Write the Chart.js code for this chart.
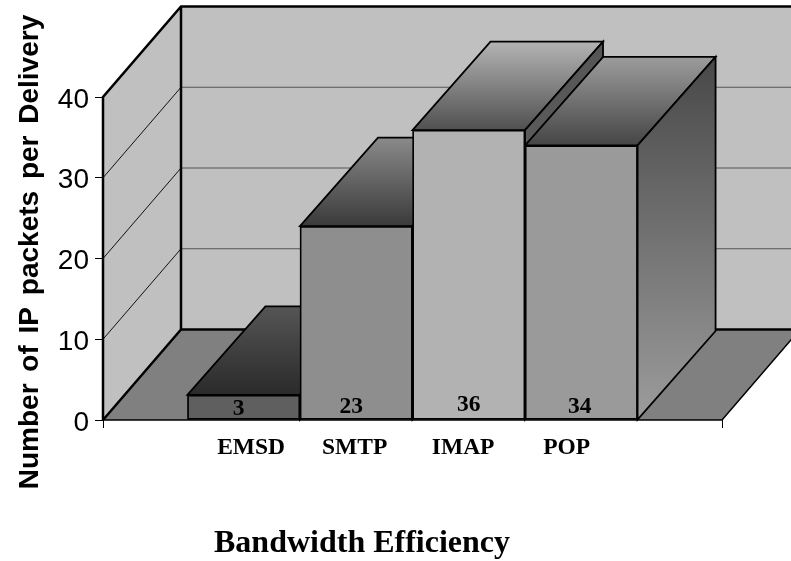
<!DOCTYPE html>
<html>
<head>
<meta charset="utf-8">
<title>Bandwidth Efficiency</title>
<script src="https://cdn.jsdelivr.net/npm/chart.js@4"></script>
<style>
  body { margin: 0; background: #fff; }
  canvas { display: block; }
</style>
</head>
<body>
<canvas id="myChart" width="791" height="561"></canvas>
<script>
"use strict";

/* Data */
const categories = ["EMSD", "SMTP", "IMAP", "POP"];
const barPositions = [1, 2, 3, 4];
const barHeights = [3.1, 24, 35.9, 34];
const valueLabels = ["3", "23", "36", "34"];
const labelPositions = [1.066, 1.986, 2.95, 3.87];
const yTicks = [0, 10, 20, 30, 40];
const xTitle = "Bandwidth Efficiency";
const yTitle = "Number of IP packets per Delivery";

/* Colours per bar */
const frontColors = ["#5f5f5f", "#8e8e8e", "#b2b2b2", "#9a9a9a"];
const topFrontColors = ["#2a2a2a", "#3a3a3a", "#505050", "#454545"];
const topBackColors = ["#555555", "#8a8a8a", "#b4b4b4", "#9c9c9c"];
const sideTopColors = ["#555555", "#555555", "#555555", "#484848"];
const sideBottomColors = ["#2a2a2a", "#8a8a8a", "#6a6a6a", "#9c9c9c"];

/* Nudges of the value labels, they do not sit centred in the original */
const labelNudgeX = [-5, -5, 0, -1.5];
const labelNudgeY = [11, 13, 15, 13];

/* Depth of the fake 3D box */
const depthX = 78;
const depthY = 90.5;
const barDepthY = 88.5;

function poly(ctx, points, fill, stroke, lineWidth) {
  ctx.beginPath();
  points.forEach((p, i) => (i ? ctx.lineTo(p[0], p[1]) : ctx.moveTo(p[0], p[1])));
  ctx.closePath();
  if (fill) {
    ctx.fillStyle = fill;
    ctx.fill();
  }
  if (stroke) {
    ctx.strokeStyle = stroke;
    ctx.lineWidth = lineWidth;
    ctx.stroke();
  }
}

function vGradient(ctx, y1, y2, c1, c2) {
  const g = ctx.createLinearGradient(0, y1, 0, y2);
  g.addColorStop(0, c1);
  g.addColorStop(1, c2);
  return g;
}

/* Walls, floor and the depth faces of the bars */
const box3d = {
  id: "box3d",
  beforeDatasetsDraw(chart) {
    const ctx = chart.ctx;
    const { left, right, top, bottom } = chart.chartArea;
    const y = chart.scales.y;
    ctx.save();

    // side wall, back wall, floor
    poly(ctx, [[left, bottom], [left + depthX, bottom - depthY], [left + depthX, top - depthY], [left, top]], "#c0c0c0");
    poly(ctx, [[left + depthX, bottom - depthY], [right + depthX, bottom - depthY], [right + depthX, top - depthY], [left + depthX, top - depthY]], "#c0c0c0");
    poly(ctx, [[left, bottom], [right, bottom], [right + depthX, bottom - depthY], [left + depthX, bottom - depthY]], "#808080");

    // grid lines on the walls
    yTicks.slice(1).forEach(v => {
      const py = y.getPixelForValue(v);
      ctx.lineWidth = 1;
      ctx.strokeStyle = "#111";
      ctx.beginPath();
      ctx.moveTo(left, py);
      ctx.lineTo(left + depthX, py - depthY);
      ctx.stroke();
      ctx.strokeStyle = "#555";
      ctx.beginPath();
      ctx.moveTo(left + depthX, py - depthY);
      ctx.lineTo(right + depthX, py - depthY);
      ctx.stroke();
    });

    // wall outlines
    ctx.strokeStyle = "#000";
    ctx.lineWidth = 2.5;
    ctx.beginPath();
    ctx.moveTo(left, bottom);
    ctx.lineTo(left, top);
    ctx.lineTo(left + depthX, top - depthY);
    ctx.lineTo(right + depthX, top - depthY);
    ctx.moveTo(left + depthX, top - depthY);
    ctx.lineTo(left + depthX, bottom - depthY);
    ctx.lineTo(right + depthX, bottom - depthY);
    ctx.moveTo(left + depthX, bottom - depthY);
    ctx.lineTo(left, bottom);
    ctx.stroke();
    ctx.lineWidth = 1.5;
    ctx.beginPath();
    ctx.moveTo(left, bottom);
    ctx.lineTo(right, bottom);
    ctx.lineTo(right + depthX, bottom - depthY);
    ctx.stroke();

    // top and side of every bar, left to right
    chart.getDatasetMeta(0).data.forEach((bar, i) => {
      const x1 = bar.x - bar.width / 2;
      const x2 = bar.x + bar.width / 2;
      poly(ctx, [[x1, bar.y], [x2, bar.y], [x2 + depthX, bar.y - barDepthY], [x1 + depthX, bar.y - barDepthY]],
        vGradient(ctx, bar.y, bar.y - barDepthY, topFrontColors[i], topBackColors[i]), "#000", 1.8);
      poly(ctx, [[x2, bar.y], [x2 + depthX, bar.y - barDepthY], [x2 + depthX, bar.base - barDepthY], [x2, bar.base]],
        vGradient(ctx, bar.y - barDepthY, bar.base, sideTopColors[i], sideBottomColors[i]), "#000", 1.8);
    });
    ctx.restore();
  },
  afterDatasetsDraw(chart) {
    const ctx = chart.ctx;
    ctx.save();
    ctx.fillStyle = "#000";
    ctx.textAlign = "center";
    ctx.textBaseline = "middle";
    ctx.font = "bold 23.5px 'Liberation Serif'";
    chart.getDatasetMeta(0).data.forEach((bar, i) => {
      ctx.fillText(valueLabels[i], bar.x + labelNudgeX[i], bar.base - labelNudgeY[i]);
    });
    ctx.font = "bold 32px 'Liberation Serif'";
    ctx.fillText(xTitle, 362, 544);
    ctx.translate(30, 252);
    ctx.rotate(-Math.PI / 2);
    ctx.font = "bold 28px 'Liberation Sans'";
    ctx.wordSpacing = "4px";
    ctx.fillText(yTitle, 0, 0);
    ctx.restore();
  }
};

const ctx = document.getElementById("myChart");
new Chart(ctx, {
  type: "bar",
  data: {
    datasets: [{
      data: barPositions.map((x, i) => ({ x: x, y: barHeights[i] })),
      backgroundColor: frontColors,
      borderColor: "#000",
      borderWidth: 1.8,
      borderSkipped: false,
      barThickness: 112.5
    }]
  },
  options: {
    responsive: false,
    animation: false,
    layout: { padding: { top: 97, right: 69, left: 0, bottom: 0 } },
    plugins: { legend: { display: false }, tooltip: { enabled: false } },
    scales: {
      x: {
        type: "linear",
        offset: false,
        min: -0.25,
        max: 5.25,
        afterFit: scale => { scale.height = 141; },
        afterBuildTicks: scale => {
          scale.ticks = [-0.25, ...labelPositions, 5.25].map(v => ({ value: v }));
        },
        border: { display: false },
        grid: {
          offset: false,
          drawOnChartArea: false,
          tickLength: 8,
          lineWidth: 1,
          tickColor: c => (c.tick && (c.tick.value === -0.25 || c.tick.value === 5.25) ? "#000" : "transparent")
        },
        ticks: {
          autoSkip: false,
          maxRotation: 0,
          padding: 6,
          color: "#000",
          font: { family: "'Liberation Serif'", size: 23.5, weight: "bold" },
          callback: value => {
            const i = labelPositions.indexOf(value);
            return i >= 0 ? categories[i] : "";
          }
        }
      },
      y: {
        min: 0,
        max: 40,
        afterFit: scale => { scale.width = 103; },
        afterBuildTicks: scale => {
          scale.ticks = yTicks.map(v => ({ value: v }));
        },
        border: { display: false },
        grid: { drawOnChartArea: false, tickLength: 8, tickColor: "#000", lineWidth: 1 },
        ticks: {
          padding: 6,
          color: "#000",
          // empty first line pushes the number a bit under its tick, as in the original
          callback: value => ["", String(value)],
          font: { family: "'Liberation Sans'", size: 28, lineHeight: "6px" }
        }
      }
    }
  },
  plugins: [box3d]
});
</script>
</body>
</html>
